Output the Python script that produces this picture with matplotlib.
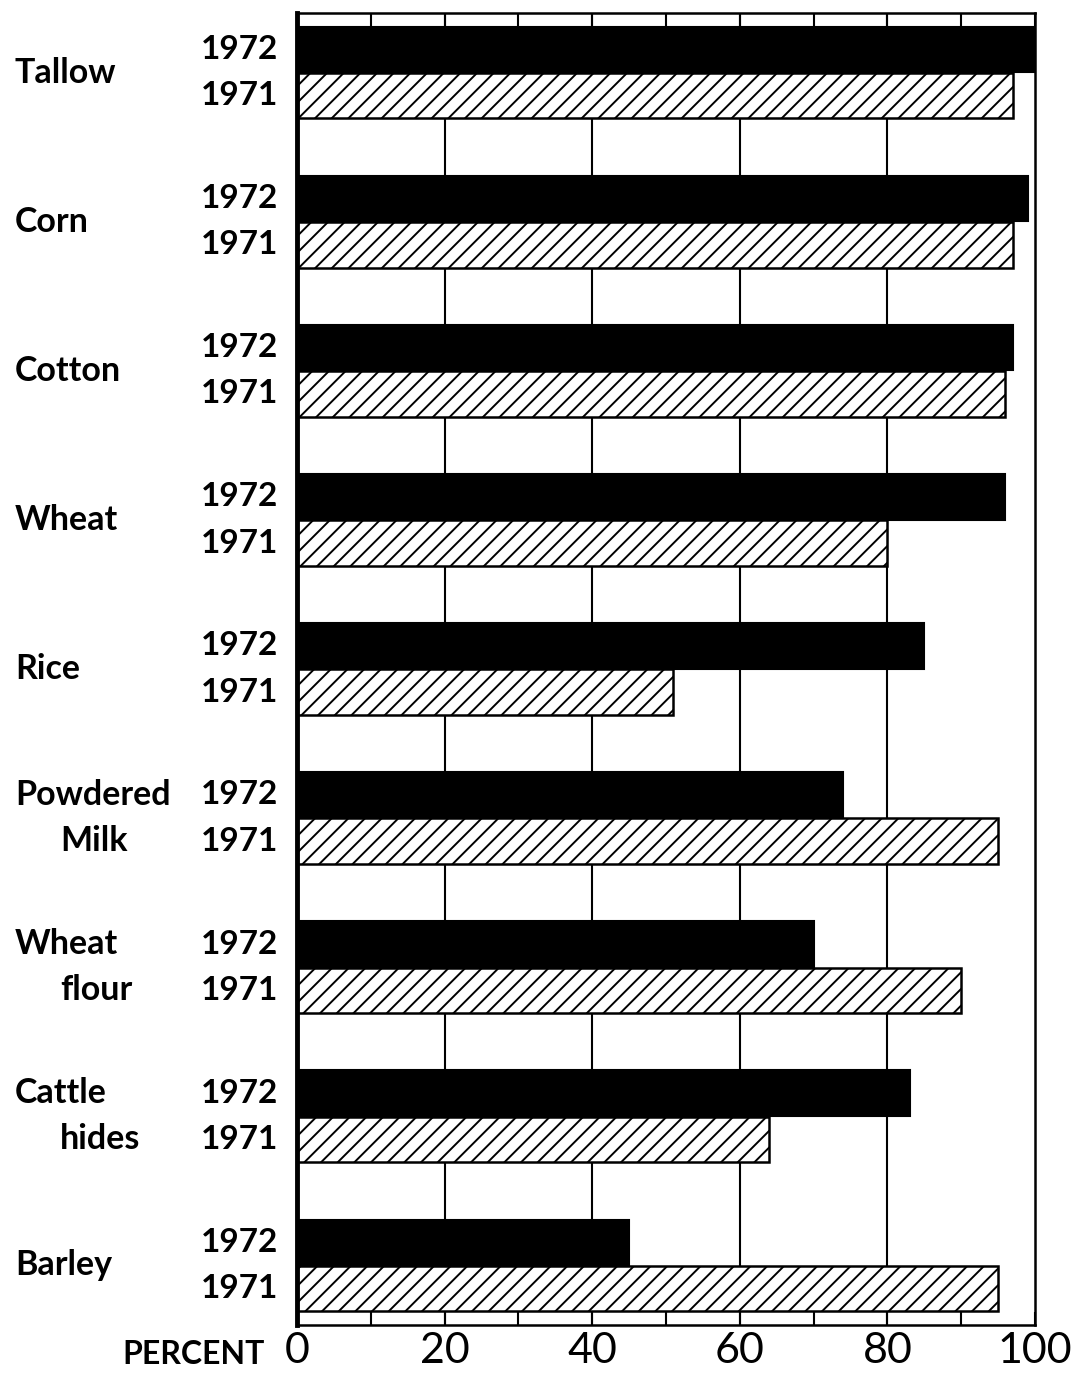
import numpy as np
import matplotlib
matplotlib.use('Agg')
import matplotlib.pyplot as plt
import matplotlib.transforms as mtransforms

# commodity labels (first line, second line)
products = [('Tallow', ''), ('Corn', ''), ('Cotton', ''), ('Wheat', ''), ('Rice', ''),
            ('Powdered', 'Milk'), ('Wheat', 'flour'), ('Cattle', 'hides'), ('Barley', '')]
pct_1972 = [100, 99, 97, 96, 85, 74, 70, 83, 45]
pct_1971 = [97, 97, 96, 80, 51, 95, 90, 64, 95]
years = ['1972', '1971']
x_ticks = [0, 20, 40, 60, 80, 100]

plt.rcParams['font.family'] = ['Lato', 'DejaVu Sans']
plt.rcParams['hatch.linewidth'] = 1.4

fig = plt.figure(figsize=(10.74, 13.75), dpi=100)
ax = fig.add_axes([297 / 1074, 1 - 1325 / 1375, 738 / 1074, 1312 / 1375])

pos = np.arange(len(products))
off = 0.155
h = 0.305

# grid behind bars
for g in [20, 40, 60, 80]:
    ax.axvline(g, color='black', lw=1.5, zorder=0)

ax.barh(pos - off, pct_1972, height=h, color='black', edgecolor='black',
        linewidth=1.5, zorder=2)
ax.barh(pos + off, pct_1971, height=h, color='white', edgecolor='black',
        hatch='//', linewidth=1.8, zorder=2)

ax.set_xlim(0, 100)
ax.set_ylim(len(products) - 0.6, -0.4)
ax.set_yticks([])
ax.set_xticks(x_ticks)
ax.set_xticks(np.arange(0, 101, 10), minor=True)
ax.tick_params(axis='x', which='both', direction='in', length=9.5, width=1.5,
               top=True, bottom=True)
ax.tick_params(axis='x', which='major', labelsize=31, pad=5)

for s in ['top', 'bottom', 'right']:
    ax.spines[s].set_linewidth(1.8)
ax.spines['left'].set_linewidth(3.5)

# labels on the left, x in figure fraction, y in data
tr = mtransforms.blended_transform_factory(fig.transFigure, ax.transData)
name_fs = 24.5
year_fs = 24
for i, (l1, l2) in enumerate(products):
    ax.text(201 / 1074, i - off, years[0], transform=tr, fontsize=year_fs,
            fontweight='bold', va='center', ha='left')
    ax.text(201 / 1074, i + off, years[1], transform=tr, fontsize=year_fs,
            fontweight='bold', va='center', ha='left')
    if l2:
        ax.text(15 / 1074, i - off, l1, transform=tr, fontsize=name_fs,
                fontweight='bold', va='center', ha='left')
        ax.text(60 / 1074, i + off, l2, transform=tr, fontsize=name_fs,
                fontweight='bold', va='center', ha='left')
    else:
        ax.text(15 / 1074, i, l1, transform=tr, fontsize=name_fs,
                fontweight='bold', va='center', ha='left')

fig.text(265 / 1074, 1 - 1354 / 1375, 'PERCENT', fontsize=23, fontweight='bold',
         ha='right', va='center')

fig.savefig('out.png', dpi=100)
